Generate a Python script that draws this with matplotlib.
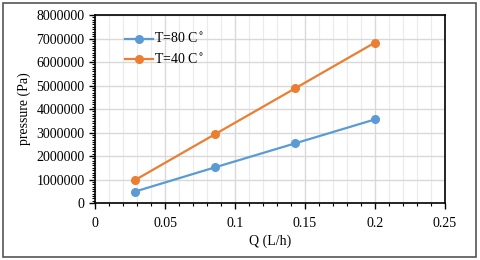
import matplotlib.pyplot as plt
from matplotlib.patches import Rectangle
from matplotlib.ticker import MultipleLocator

# Messwerte
q_values = [0.0286, 0.0857, 0.1429, 0.2]
p_80 = [490000, 1520000, 2540000, 3560000]
p_40 = [980000, 2930000, 4880000, 6830000]

plt.rcParams['font.family'] = ['Liberation Serif', 'DejaVu Serif']

fig = plt.figure(figsize=(4.8, 2.6), dpi=100)
ax = fig.add_axes([0.198, 0.219, 0.729, 0.723])

# Rahmen um die ganze Grafik
fig.patches.append(Rectangle((0.006, 0.012), 0.986, 0.976, transform=fig.transFigure,
                             fill=False, edgecolor="#555555", linewidth=1.2))

ax.plot(q_values, p_80, color="#5B9BD5", marker="o", markersize=5.5, linewidth=1.6, label="T=80 C$^{\\circ}$")
ax.plot(q_values, p_40, color="#ED7D31", marker="o", markersize=5.5, linewidth=1.6, label="T=40 C$^{\\circ}$")

ax.set_xlim(0, 0.25)
ax.set_ylim(0, 8000000)
ax.xaxis.set_major_locator(MultipleLocator(0.05))
ax.xaxis.set_minor_locator(MultipleLocator(0.01))
ax.yaxis.set_major_locator(MultipleLocator(1000000))
ax.yaxis.set_minor_locator(MultipleLocator(100000))
ax.set_xticks([0, 0.05, 0.1, 0.15, 0.2, 0.25])
ax.set_xticklabels(["0", "0.05", "0.1", "0.15", "0.2", "0.25"])
ax.set_yticklabels([str(int(v)) for v in ax.get_yticks()])

ax.grid(True, which="major", axis="x", color="#D9D9D9", linewidth=1.0)
ax.grid(True, which="minor", axis="x", color="#EBEBEB", linewidth=0.8)
ax.grid(True, which="major", axis="y", color="#D9D9D9", linewidth=1.0)
ax.set_axisbelow(True)

ax.tick_params(axis="both", which="major", direction="out", length=4, width=1, labelsize=10, colors="black")
ax.tick_params(axis="both", which="minor", direction="out", length=2.5, width=0.8)
ax.tick_params(axis="x", pad=6)
for side in ax.spines.values():
    side.set_color("black")
    side.set_linewidth(1.2)

ax.set_xlabel("Q (L/h)", fontsize=10, labelpad=3)
ax.set_ylabel("pressure (Pa)", fontsize=10, labelpad=4)

ax.legend(loc="upper left", bbox_to_anchor=(0.07, 0.94), frameon=False, fontsize=10,
          handlelength=2.0, handletextpad=0.1, labelspacing=0.45, borderaxespad=0)

fig.savefig("out.png", dpi=100)
